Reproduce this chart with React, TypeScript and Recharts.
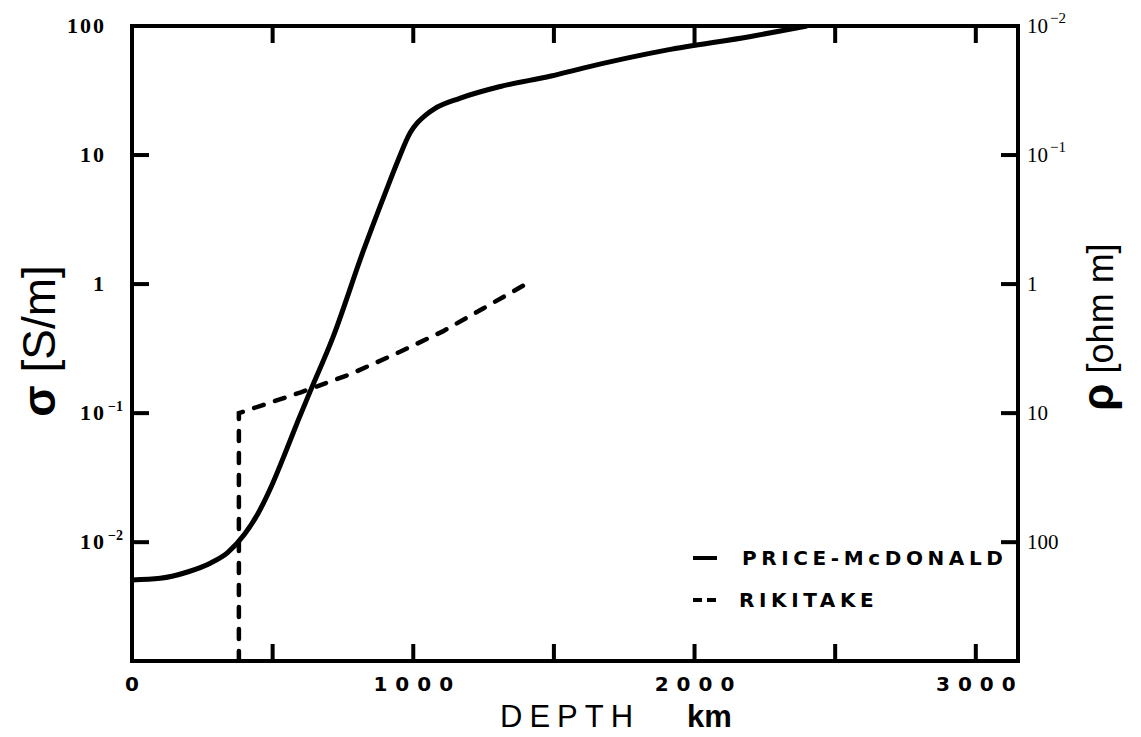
import React from 'react';
import { LineChart, Line, XAxis, YAxis, Legend } from 'recharts';

// Depth axis (km)
const depthDomain = [0, 3150];
const depthTicks = [0, 500, 1000, 1500, 2000, 2500, 3000];
const depthTickLabels: Record<number, string> = { 0: '0', 1000: '1000', 2000: '2000', 3000: '3000' };

// Conductivity axis (S/m), log scale; resistivity is its reciprocal
const sigmaDomain = [0.0012, 100];
const sigmaTicks = [0.01, 0.1, 1, 10, 100];
const sigmaTickLabels = [
  { base: '10', exp: '−2' },
  { base: '10', exp: '−1' },
  { base: '1', exp: '' },
  { base: '10', exp: '' },
  { base: '100', exp: '' },
];
const rhoTickLabels = [
  { base: '100', exp: '' },
  { base: '10', exp: '' },
  { base: '1', exp: '' },
  { base: '10', exp: '−1' },
  { base: '10', exp: '−2' },
];

// Price-McDonald conductivity profile
const priceDepth = [0, 100, 200, 280, 340, 400, 450, 500, 550, 590, 635, 715, 820, 905, 945, 990, 1015, 1045, 1075, 1165, 1310, 1490, 1600, 1900, 2200, 2400];
const priceSigma = [0.0051, 0.00525, 0.0059, 0.0069, 0.0083, 0.0115, 0.017, 0.0285, 0.0525, 0.087, 0.15, 0.39, 1.75, 5.4, 9.0, 15.0, 17.8, 20.5, 22.8, 27.5, 34, 41, 47, 65, 83, 100];

// Rikitake conductivity profile
const rikitakeDepth = [380, 380, 420, 600, 775, 955, 1105, 1250, 1390];
const rikitakeSigma = [0.0012, 0.1, 0.107, 0.145, 0.2, 0.3, 0.43, 0.65, 0.97];

const priceData = priceDepth.map((d, i) => ({ depth: d, sigma: priceSigma[i] }));
const rikitakeData = rikitakeDepth.map((d, i) => ({ depth: d, sigma: rikitakeSigma[i] }));

const INK = '#000';
const MARK = 17;
const SERIF = '"Liberation Serif", "DejaVu Serif", serif';
const SANS = '"Liberation Sans", Arial, sans-serif';
const BOLD_SANS = '"DejaVu Sans", "Liberation Sans", sans-serif';

const axisLineStyle = { stroke: INK, strokeWidth: 4, strokeLinecap: 'square' as const };

const LeftTick = (props: any) => {
  const { x, y, payload } = props;
  const lab = sigmaTickLabels[sigmaTicks.indexOf(payload.value)];
  return (
    <g>
      {payload.value !== 100 && <rect x={x} y={y - 2} width={MARK} height={4} fill={INK} />}
      <text x={x - 26} y={y + 7} textAnchor="end" fontFamily={SERIF} fontWeight="bold" fontSize={22} letterSpacing={2} fill={INK}>
        {lab.base}
      </text>
      {lab.exp && (
        <text x={x - 24} y={y - 2} textAnchor="start" fontFamily={SERIF} fontWeight="bold" fontSize={14} fill={INK}>
          {lab.exp}
        </text>
      )}
    </g>
  );
};

const RightTick = (props: any) => {
  const { x, y, payload } = props;
  const lab = rhoTickLabels[sigmaTicks.indexOf(payload.value)];
  const baseWidth = lab.base.length * 10.5;
  return (
    <g>
      {payload.value !== 100 && <rect x={x - MARK} y={y - 2} width={MARK} height={4} fill={INK} />}
      <text x={x + 9} y={y + 7} textAnchor="start" fontFamily={SERIF} fontSize={21} fill={INK}>
        {lab.base}
      </text>
      {lab.exp && (
        <text x={x + 11 + baseWidth} y={y - 3} textAnchor="start" fontFamily={SERIF} fontSize={15} fill={INK}>
          {lab.exp}
        </text>
      )}
    </g>
  );
};

const BottomTick = (props: any) => {
  const { x, y, payload } = props;
  const px = Number(x);
  const py = Number(y);
  const label = depthTickLabels[payload.value];
  return (
    <g>
      {payload.value !== 0 && <rect x={px - 2} y={py - MARK} width={4} height={MARK} fill={INK} />}
      {label && (
        <text x={px + 4} y={py + 30} textAnchor="middle" fontFamily={BOLD_SANS} fontWeight="bold" fontSize={20} letterSpacing={8} fill={INK}>
          {label}
        </text>
      )}
    </g>
  );
};

const TopTick = (props: any) => {
  const { x, y, payload } = props;
  const px = Number(x);
  const py = Number(y);
  return (
    <g>
      {payload.value !== 0 && <rect x={px - 2} y={py} width={4} height={MARK} fill={INK} />}
    </g>
  );
};

const SigmaTitle = () => (
  <text x={47} y={333} transform="rotate(-90, 47, 333)" textAnchor="middle" fontFamily={SANS} fontSize={46} fill={INK}>
    <tspan fontWeight="bold">σ</tspan> [S/m]
  </text>
);

const RhoTitle = () => (
  <text x={1105} y={319} transform="rotate(-90, 1105, 319)" textAnchor="middle" fontFamily={SANS} fontSize={36} fill={INK}>
    <tspan fontWeight="bold" fontSize={44}>ρ</tspan> [ohm m]
  </text>
);

const DepthTitle = () => (
  <g>
    <text x={492} y={719} fontFamily={SANS} fontSize={31} letterSpacing={7} fill={INK}>DEPTH</text>
    <text x={679} y={719} fontFamily={SANS} fontWeight="bold" fontSize={31} fill={INK}>km</text>
  </g>
);

const legendText = {
  position: 'absolute' as const,
  fontFamily: BOLD_SANS,
  fontWeight: 'bold' as const,
  fontSize: 20,
  letterSpacing: 4.6,
  color: INK,
  lineHeight: '20px',
  whiteSpace: 'nowrap' as const,
};

const renderLegend = () => (
  <div style={{ position: 'relative', width: 340, height: 90 }}>
    <svg width={40} height={90} style={{ position: 'absolute', left: 0, top: 0 }}>
      <line x1={5} x2={29} y1={20} y2={20} stroke={INK} strokeWidth={4} />
      <line x1={5} x2={14} y1={62} y2={62} stroke={INK} strokeWidth={4} />
      <line x1={19} x2={28} y1={62} y2={62} stroke={INK} strokeWidth={4} />
    </svg>
    <span style={{ ...legendText, left: 54, top: 10 }}>PRICE-McDONALD</span>
    <span style={{ ...legendText, left: 51, top: 52 }}>RIKITAKE</span>
  </div>
);

export default function App() {
  return (
    <div style={{ width: 1133, height: 729, background: '#fff' }}>
      <LineChart width={1133} height={729} margin={{ top: 8, right: 63, bottom: 36, left: 64 }}>
        <XAxis
          xAxisId="bottom"
          orientation="bottom"
          type="number"
          dataKey="depth"
          domain={depthDomain}
          allowDataOverflow
          ticks={depthTicks}
          interval={0}
          height={40}
          tickSize={0}
          tickMargin={0}
          tickLine={false}
          axisLine={axisLineStyle}
          tick={BottomTick}
          label={{ content: DepthTitle }}
        />
        <XAxis
          xAxisId="top"
          orientation="top"
          type="number"
          dataKey="depth"
          domain={depthDomain}
          allowDataOverflow
          ticks={depthTicks}
          interval={0}
          height={10}
          tickSize={0}
          tickMargin={0}
          tickLine={false}
          axisLine={axisLineStyle}
          tick={TopTick}
        />
        <YAxis
          yAxisId="left"
          orientation="left"
          type="number"
          scale="log"
          domain={sigmaDomain}
          allowDataOverflow
          ticks={sigmaTicks}
          interval={0}
          width={60}
          tickSize={0}
          tickMargin={0}
          tickLine={false}
          axisLine={axisLineStyle}
          tick={LeftTick}
          label={{ content: SigmaTitle }}
        />
        <YAxis
          yAxisId="right"
          orientation="right"
          type="number"
          scale="log"
          domain={sigmaDomain}
          allowDataOverflow
          ticks={sigmaTicks}
          interval={0}
          width={60}
          tickSize={0}
          tickMargin={0}
          tickLine={false}
          axisLine={axisLineStyle}
          tick={RightTick}
          label={{ content: RhoTitle }}
        />
        <Legend
          layout="vertical"
          align="center"
          verticalAlign="middle"
          content={renderLegend}
          wrapperStyle={{ left: 680, top: 530, width: 340, height: 90 }}
        />
        <Line
          name="PRICE-McDONALD"
          data={priceData}
          dataKey="sigma"
          xAxisId="bottom"
          yAxisId="left"
          type="monotone"
          stroke={INK}
          strokeWidth={5}
          dot={false}
          activeDot={false}
          isAnimationActive={false}
        />
        <Line
          name="RIKITAKE"
          data={rikitakeData}
          dataKey="sigma"
          xAxisId="bottom"
          yAxisId="left"
          type="linear"
          stroke={INK}
          strokeWidth={4.5}
          strokeDasharray="10 12"
          strokeLinecap="round"
          dot={false}
          activeDot={false}
          isAnimationActive={false}
        />
      </LineChart>
    </div>
  );
}
